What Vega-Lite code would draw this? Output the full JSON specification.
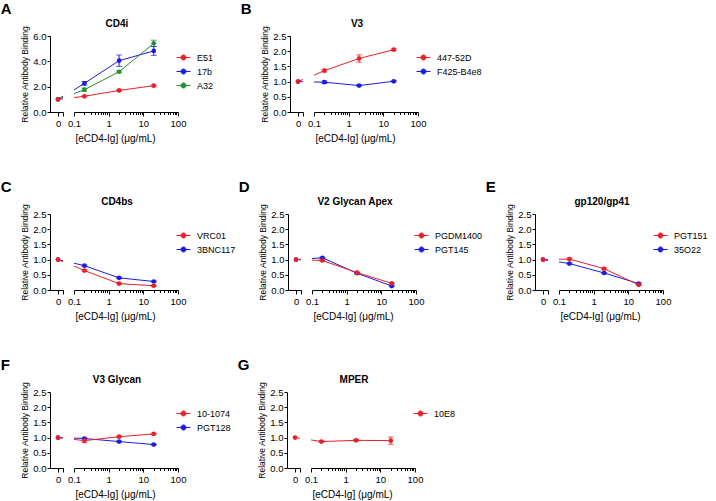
{
"$schema": "https://vega.github.io/schema/vega-lite/v6.json",
"background": "white",
"padding": {"left": 0, "top": 1, "right": 0, "bottom": 0},
"autosize": {"type": "pad"},
"datasets": {"d": [
{"p":"A","ab":"17b","conc":0,"mean":1,"sd":0},
{"p":"A","ab":"17b","conc":0.2,"mean":2.26,"sd":0.15},
{"p":"A","ab":"17b","conc":2,"mean":4.05,"sd":0.45},
{"p":"A","ab":"17b","conc":20,"mean":4.82,"sd":0.35},
{"p":"A","ab":"A32","conc":0,"mean":1,"sd":0},
{"p":"A","ab":"A32","conc":0.2,"mean":1.76,"sd":0.12},
{"p":"A","ab":"A32","conc":2,"mean":3.18,"sd":0.08},
{"p":"A","ab":"A32","conc":20,"mean":5.42,"sd":0.25},
{"p":"A","ab":"E51","conc":0,"mean":1,"sd":0},
{"p":"A","ab":"E51","conc":0.2,"mean":1.24,"sd":0.04},
{"p":"A","ab":"E51","conc":2,"mean":1.7,"sd":0.04},
{"p":"A","ab":"E51","conc":20,"mean":2.08,"sd":0.04},
{"p":"B","ab":"F425-B4e8","conc":0,"mean":1,"sd":0},
{"p":"B","ab":"F425-B4e8","conc":0.2,"mean":0.98,"sd":0.04},
{"p":"B","ab":"F425-B4e8","conc":2,"mean":0.87,"sd":0.02},
{"p":"B","ab":"F425-B4e8","conc":20,"mean":1.01,"sd":0.02},
{"p":"B","ab":"447-52D","conc":0,"mean":1,"sd":0},
{"p":"B","ab":"447-52D","conc":0.2,"mean":1.36,"sd":0.04},
{"p":"B","ab":"447-52D","conc":2,"mean":1.76,"sd":0.12},
{"p":"B","ab":"447-52D","conc":20,"mean":2.05,"sd":0.03},
{"p":"C","ab":"3BNC117","conc":0,"mean":1,"sd":0},
{"p":"C","ab":"3BNC117","conc":0.2,"mean":0.8,"sd":0.02},
{"p":"C","ab":"3BNC117","conc":2,"mean":0.4,"sd":0.02},
{"p":"C","ab":"3BNC117","conc":20,"mean":0.28,"sd":0.02},
{"p":"C","ab":"VRC01","conc":0,"mean":1,"sd":0},
{"p":"C","ab":"VRC01","conc":0.2,"mean":0.64,"sd":0.03},
{"p":"C","ab":"VRC01","conc":2,"mean":0.21,"sd":0.02},
{"p":"C","ab":"VRC01","conc":20,"mean":0.14,"sd":0.02},
{"p":"D","ab":"PGT145","conc":0,"mean":1,"sd":0},
{"p":"D","ab":"PGT145","conc":0.2,"mean":1.06,"sd":0.02},
{"p":"D","ab":"PGT145","conc":2,"mean":0.55,"sd":0.02},
{"p":"D","ab":"PGT145","conc":20,"mean":0.13,"sd":0.02},
{"p":"D","ab":"PGDM1400","conc":0,"mean":1,"sd":0},
{"p":"D","ab":"PGDM1400","conc":0.2,"mean":0.97,"sd":0.03},
{"p":"D","ab":"PGDM1400","conc":2,"mean":0.57,"sd":0.02},
{"p":"D","ab":"PGDM1400","conc":20,"mean":0.22,"sd":0.02},
{"p":"E","ab":"35O22","conc":0,"mean":1,"sd":0},
{"p":"E","ab":"35O22","conc":0.2,"mean":0.87,"sd":0.02},
{"p":"E","ab":"35O22","conc":2,"mean":0.56,"sd":0.02},
{"p":"E","ab":"35O22","conc":20,"mean":0.21,"sd":0.02},
{"p":"E","ab":"PGT151","conc":0,"mean":1,"sd":0},
{"p":"E","ab":"PGT151","conc":0.2,"mean":1.02,"sd":0.03},
{"p":"E","ab":"PGT151","conc":2,"mean":0.7,"sd":0.03},
{"p":"E","ab":"PGT151","conc":20,"mean":0.17,"sd":0.02},
{"p":"F","ab":"PGT128","conc":0,"mean":1,"sd":0},
{"p":"F","ab":"PGT128","conc":0.2,"mean":0.97,"sd":0.02},
{"p":"F","ab":"PGT128","conc":2,"mean":0.87,"sd":0.02},
{"p":"F","ab":"PGT128","conc":20,"mean":0.77,"sd":0.02},
{"p":"F","ab":"10-1074","conc":0,"mean":1,"sd":0},
{"p":"F","ab":"10-1074","conc":0.2,"mean":0.9,"sd":0.07},
{"p":"F","ab":"10-1074","conc":2,"mean":1.03,"sd":0.02},
{"p":"F","ab":"10-1074","conc":20,"mean":1.12,"sd":0.02},
{"p":"G","ab":"10E8","conc":0,"mean":1,"sd":0},
{"p":"G","ab":"10E8","conc":0.2,"mean":0.87,"sd":0.03},
{"p":"G","ab":"10E8","conc":2,"mean":0.91,"sd":0.03},
{"p":"G","ab":"10E8","conc":20,"mean":0.9,"sd":0.12}
]},
"spacing": 35,
"resolve": {"scale": {"color": "independent", "x": "independent", "y": "independent"}, "legend": {"color": "independent"}},
"vconcat": [
{"spacing": 26, "resolve": {"scale": {"color": "independent", "x": "independent", "y": "independent"}, "legend": {"color": "independent"}},
 "hconcat": [
 {"spacing": 3, "resolve": {"scale": {"color": "shared", "x": "independent", "y": "independent"}, "legend": {"color": "shared"}},
  "hconcat": [
   {"width": 13, "height": 76,
    "title": {"text": "A", "anchor": "start", "dx": -20, "fontSize": 15, "fontWeight": "bold", "offset": 9},
    "data": {"name": "d"}, "transform": [{"filter": "datum.p == 'A'"}],
    "layer": [
     {"mark": {"type": "line", "clip": true}, "encoding": {
       "x": {"field": "conc", "type": "quantitative", "scale": {"domain": [-0.063, 0.039], "nice": false, "zero": false}, "axis": {"values": [0, 0.039], "labelExpr": "datum.value == 0 ? '0' : ''", "title": null, "labelFlush": false}},
       "y": {"field": "mean", "type": "quantitative", "scale": {"domain": [0, 6], "nice": false}, "axis": {"values": [0, 2, 4, 6], "format": ".1f", "title": "Relative Antibody Binding"}},
       "color": {"field": "ab", "type": "nominal", "scale": {"domain": ["E51", "17b", "A32"], "range": ["#e8202a", "#1c1ce0", "#24902c"]}, "legend": {"title": " "}}}},
     {"transform": [{"filter": "datum.conc == 0"}], "mark": "point", "encoding": {
       "x": {"field": "conc", "type": "quantitative", "axis": {"values": [0, 0.039], "labelExpr": "datum.value == 0 ? '0' : ''", "title": null, "labelFlush": false}},
       "y": {"field": "mean", "type": "quantitative", "axis": {"values": [0, 2, 4, 6], "format": ".1f", "title": "Relative Antibody Binding"}},
       "color": {"field": "ab", "type": "nominal"}}}
    ]},
   {"width": 104, "height": 76,
    "title": {"text": "CD4i", "fontSize": 10, "fontWeight": "bold", "dx": -9, "offset": 7},
    "data": {"name": "d"}, "transform": [{"filter": "datum.p == 'A'"}],
    "resolve": {"scale": {"x": "independent"}},
    "layer": [
     {"transform": [{"filter": "datum.conc <= 0.2"}], "mark": {"type": "line", "clip": true}, "encoding": {
       "x": {"field": "conc", "type": "quantitative", "scale": {"domain": [0.118, 0.937], "nice": false, "zero": false}, "axis": null},
       "y": {"field": "mean", "type": "quantitative", "scale": {"domain": [0, 6], "nice": false}, "axis": null},
       "color": {"field": "ab", "type": "nominal", "scale": {"domain": ["E51", "17b", "A32"], "range": ["#e8202a", "#1c1ce0", "#24902c"]}, "legend": {"title": " "}}}},
     {"transform": [{"filter": "datum.conc > 0"}], "resolve": {"axis": {"x": "independent"}},
      "layer": [
       {"mark": "line", "encoding": {
         "x": {"field": "conc", "type": "quantitative", "scale": {"type": "log", "domain": [0.1, 100], "nice": false}, "axis": {"orient": "bottom", "values": [0.1, 1, 10, 100], "format": "~g", "labelFlush": false, "title": "[eCD4-Ig] (μg/mL)", "titleX": 41}},
         "y": {"field": "mean", "type": "quantitative", "axis": null},
         "color": {"field": "ab", "type": "nominal"}}},
       {"mark": {"type": "errorbar", "ticks": {"size": 6}}, "encoding": {
         "x": {"field": "conc", "type": "quantitative", "axis": null},
         "y": {"field": "mean", "type": "quantitative", "axis": null},
         "yError": {"field": "sd"},
         "color": {"field": "ab", "type": "nominal"}}},
       {"mark": "point", "encoding": {
         "x": {"field": "conc", "type": "quantitative", "axis": {"orient": "bottom", "values": [0.2,0.3,0.4,0.5,0.6,0.7,0.8,0.9,2,3,4,5,6,7,8,9,20,30,40,50,60,70,80,90], "labels": false, "domain": false, "title": null, "tickSize": 2.5}},
         "y": {"field": "mean", "type": "quantitative", "axis": null},
         "color": {"field": "ab", "type": "nominal"}}}
      ]}
    ]}
  ]},
 {"spacing": 3, "resolve": {"scale": {"color": "shared", "x": "independent", "y": "independent"}, "legend": {"color": "shared"}},
  "hconcat": [
   {"width": 13, "height": 76,
    "title": {"text": "B", "anchor": "start", "dx": -20, "fontSize": 15, "fontWeight": "bold", "offset": 9},
    "data": {"name": "d"}, "transform": [{"filter": "datum.p == 'B'"}],
    "layer": [
     {"mark": {"type": "line", "clip": true}, "encoding": {
       "x": {"field": "conc", "type": "quantitative", "scale": {"domain": [-0.063, 0.039], "nice": false, "zero": false}, "axis": {"values": [0, 0.039], "labelExpr": "datum.value == 0 ? '0' : ''", "title": null, "labelFlush": false}},
       "y": {"field": "mean", "type": "quantitative", "scale": {"domain": [0, 2.5], "nice": false}, "axis": {"values": [0, 0.5, 1, 1.5, 2, 2.5], "format": ".1f", "title": "Relative Antibody Binding"}},
       "color": {"field": "ab", "type": "nominal", "scale": {"domain": ["447-52D", "F425-B4e8"], "range": ["#e8202a", "#1c1ce0"]}, "legend": {"title": " "}}}},
     {"transform": [{"filter": "datum.conc == 0"}], "mark": "point", "encoding": {
       "x": {"field": "conc", "type": "quantitative", "axis": {"values": [0, 0.039], "labelExpr": "datum.value == 0 ? '0' : ''", "title": null, "labelFlush": false}},
       "y": {"field": "mean", "type": "quantitative", "axis": {"values": [0, 0.5, 1, 1.5, 2, 2.5], "format": ".1f", "title": "Relative Antibody Binding"}},
       "color": {"field": "ab", "type": "nominal"}}}
    ]},
   {"width": 104, "height": 76,
    "title": {"text": "V3", "fontSize": 10, "fontWeight": "bold", "dx": -9, "offset": 7},
    "data": {"name": "d"}, "transform": [{"filter": "datum.p == 'B'"}],
    "resolve": {"scale": {"x": "independent"}},
    "layer": [
     {"transform": [{"filter": "datum.conc <= 0.2"}], "mark": {"type": "line", "clip": true}, "encoding": {
       "x": {"field": "conc", "type": "quantitative", "scale": {"domain": [0.118, 0.937], "nice": false, "zero": false}, "axis": null},
       "y": {"field": "mean", "type": "quantitative", "scale": {"domain": [0, 2.5], "nice": false}, "axis": null},
       "color": {"field": "ab", "type": "nominal", "scale": {"domain": ["447-52D", "F425-B4e8"], "range": ["#e8202a", "#1c1ce0"]}, "legend": {"title": " "}}}},
     {"transform": [{"filter": "datum.conc > 0"}], "resolve": {"axis": {"x": "independent"}},
      "layer": [
       {"mark": "line", "encoding": {
         "x": {"field": "conc", "type": "quantitative", "scale": {"type": "log", "domain": [0.1, 100], "nice": false}, "axis": {"orient": "bottom", "values": [0.1, 1, 10, 100], "format": "~g", "labelFlush": false, "title": "[eCD4-Ig] (μg/mL)", "titleX": 41}},
         "y": {"field": "mean", "type": "quantitative", "axis": null},
         "color": {"field": "ab", "type": "nominal"}}},
       {"mark": {"type": "errorbar", "ticks": {"size": 6}}, "encoding": {
         "x": {"field": "conc", "type": "quantitative", "axis": null},
         "y": {"field": "mean", "type": "quantitative", "axis": null},
         "yError": {"field": "sd"},
         "color": {"field": "ab", "type": "nominal"}}},
       {"mark": "point", "encoding": {
         "x": {"field": "conc", "type": "quantitative", "axis": {"orient": "bottom", "values": [0.2,0.3,0.4,0.5,0.6,0.7,0.8,0.9,2,3,4,5,6,7,8,9,20,30,40,50,60,70,80,90], "labels": false, "domain": false, "title": null, "tickSize": 2.5}},
         "y": {"field": "mean", "type": "quantitative", "axis": null},
         "color": {"field": "ab", "type": "nominal"}}}
      ]}
    ]}
  ]}
 ]},
{"spacing": 2, "resolve": {"scale": {"color": "independent", "x": "independent", "y": "independent"}, "legend": {"color": "independent"}},
 "hconcat": [
 {"spacing": 3, "resolve": {"scale": {"color": "shared", "x": "independent", "y": "independent"}, "legend": {"color": "shared"}},
  "hconcat": [
   {"width": 13, "height": 76,
    "title": {"text": "C", "anchor": "start", "dx": -20, "fontSize": 15, "fontWeight": "bold", "offset": 9},
    "data": {"name": "d"}, "transform": [{"filter": "datum.p == 'C'"}],
    "layer": [
     {"mark": {"type": "line", "clip": true}, "encoding": {
       "x": {"field": "conc", "type": "quantitative", "scale": {"domain": [-0.063, 0.039], "nice": false, "zero": false}, "axis": {"values": [0, 0.039], "labelExpr": "datum.value == 0 ? '0' : ''", "title": null, "labelFlush": false}},
       "y": {"field": "mean", "type": "quantitative", "scale": {"domain": [0, 2.5], "nice": false}, "axis": {"values": [0, 0.5, 1, 1.5, 2, 2.5], "format": ".1f", "title": "Relative Antibody Binding"}},
       "color": {"field": "ab", "type": "nominal", "scale": {"domain": ["VRC01", "3BNC117"], "range": ["#e8202a", "#1c1ce0"]}, "legend": {"title": " "}}}},
     {"transform": [{"filter": "datum.conc == 0"}], "mark": "point", "encoding": {
       "x": {"field": "conc", "type": "quantitative", "axis": {"values": [0, 0.039], "labelExpr": "datum.value == 0 ? '0' : ''", "title": null, "labelFlush": false}},
       "y": {"field": "mean", "type": "quantitative", "axis": {"values": [0, 0.5, 1, 1.5, 2, 2.5], "format": ".1f", "title": "Relative Antibody Binding"}},
       "color": {"field": "ab", "type": "nominal"}}}
    ]},
   {"width": 104, "height": 76,
    "title": {"text": "CD4bs", "fontSize": 10, "fontWeight": "bold", "dx": -9, "offset": 7},
    "data": {"name": "d"}, "transform": [{"filter": "datum.p == 'C'"}],
    "resolve": {"scale": {"x": "independent"}},
    "layer": [
     {"transform": [{"filter": "datum.conc <= 0.2"}], "mark": {"type": "line", "clip": true}, "encoding": {
       "x": {"field": "conc", "type": "quantitative", "scale": {"domain": [0.118, 0.937], "nice": false, "zero": false}, "axis": null},
       "y": {"field": "mean", "type": "quantitative", "scale": {"domain": [0, 2.5], "nice": false}, "axis": null},
       "color": {"field": "ab", "type": "nominal", "scale": {"domain": ["VRC01", "3BNC117"], "range": ["#e8202a", "#1c1ce0"]}, "legend": {"title": " "}}}},
     {"transform": [{"filter": "datum.conc > 0"}], "resolve": {"axis": {"x": "independent"}},
      "layer": [
       {"mark": "line", "encoding": {
         "x": {"field": "conc", "type": "quantitative", "scale": {"type": "log", "domain": [0.1, 100], "nice": false}, "axis": {"orient": "bottom", "values": [0.1, 1, 10, 100], "format": "~g", "labelFlush": false, "title": "[eCD4-Ig] (μg/mL)", "titleX": 41}},
         "y": {"field": "mean", "type": "quantitative", "axis": null},
         "color": {"field": "ab", "type": "nominal"}}},
       {"mark": {"type": "errorbar", "ticks": {"size": 6}}, "encoding": {
         "x": {"field": "conc", "type": "quantitative", "axis": null},
         "y": {"field": "mean", "type": "quantitative", "axis": null},
         "yError": {"field": "sd"},
         "color": {"field": "ab", "type": "nominal"}}},
       {"mark": "point", "encoding": {
         "x": {"field": "conc", "type": "quantitative", "axis": {"orient": "bottom", "values": [0.2,0.3,0.4,0.5,0.6,0.7,0.8,0.9,2,3,4,5,6,7,8,9,20,30,40,50,60,70,80,90], "labels": false, "domain": false, "title": null, "tickSize": 2.5}},
         "y": {"field": "mean", "type": "quantitative", "axis": null},
         "color": {"field": "ab", "type": "nominal"}}}
      ]}
    ]}
  ]},
 {"spacing": 3, "resolve": {"scale": {"color": "shared", "x": "independent", "y": "independent"}, "legend": {"color": "shared"}},
  "hconcat": [
   {"width": 13, "height": 76,
    "title": {"text": "D", "anchor": "start", "dx": -20, "fontSize": 15, "fontWeight": "bold", "offset": 9},
    "data": {"name": "d"}, "transform": [{"filter": "datum.p == 'D'"}],
    "layer": [
     {"mark": {"type": "line", "clip": true}, "encoding": {
       "x": {"field": "conc", "type": "quantitative", "scale": {"domain": [-0.063, 0.039], "nice": false, "zero": false}, "axis": {"values": [0, 0.039], "labelExpr": "datum.value == 0 ? '0' : ''", "title": null, "labelFlush": false}},
       "y": {"field": "mean", "type": "quantitative", "scale": {"domain": [0, 2.5], "nice": false}, "axis": {"values": [0, 0.5, 1, 1.5, 2, 2.5], "format": ".1f", "title": "Relative Antibody Binding"}},
       "color": {"field": "ab", "type": "nominal", "scale": {"domain": ["PGDM1400", "PGT145"], "range": ["#e8202a", "#1c1ce0"]}, "legend": {"title": " "}}}},
     {"transform": [{"filter": "datum.conc == 0"}], "mark": "point", "encoding": {
       "x": {"field": "conc", "type": "quantitative", "axis": {"values": [0, 0.039], "labelExpr": "datum.value == 0 ? '0' : ''", "title": null, "labelFlush": false}},
       "y": {"field": "mean", "type": "quantitative", "axis": {"values": [0, 0.5, 1, 1.5, 2, 2.5], "format": ".1f", "title": "Relative Antibody Binding"}},
       "color": {"field": "ab", "type": "nominal"}}}
    ]},
   {"width": 104, "height": 76,
    "title": {"text": "V2 Glycan Apex", "fontSize": 10, "fontWeight": "bold", "dx": -9, "offset": 7},
    "data": {"name": "d"}, "transform": [{"filter": "datum.p == 'D'"}],
    "resolve": {"scale": {"x": "independent"}},
    "layer": [
     {"transform": [{"filter": "datum.conc <= 0.2"}], "mark": {"type": "line", "clip": true}, "encoding": {
       "x": {"field": "conc", "type": "quantitative", "scale": {"domain": [0.118, 0.937], "nice": false, "zero": false}, "axis": null},
       "y": {"field": "mean", "type": "quantitative", "scale": {"domain": [0, 2.5], "nice": false}, "axis": null},
       "color": {"field": "ab", "type": "nominal", "scale": {"domain": ["PGDM1400", "PGT145"], "range": ["#e8202a", "#1c1ce0"]}, "legend": {"title": " "}}}},
     {"transform": [{"filter": "datum.conc > 0"}], "resolve": {"axis": {"x": "independent"}},
      "layer": [
       {"mark": "line", "encoding": {
         "x": {"field": "conc", "type": "quantitative", "scale": {"type": "log", "domain": [0.1, 100], "nice": false}, "axis": {"orient": "bottom", "values": [0.1, 1, 10, 100], "format": "~g", "labelFlush": false, "title": "[eCD4-Ig] (μg/mL)", "titleX": 41}},
         "y": {"field": "mean", "type": "quantitative", "axis": null},
         "color": {"field": "ab", "type": "nominal"}}},
       {"mark": {"type": "errorbar", "ticks": {"size": 6}}, "encoding": {
         "x": {"field": "conc", "type": "quantitative", "axis": null},
         "y": {"field": "mean", "type": "quantitative", "axis": null},
         "yError": {"field": "sd"},
         "color": {"field": "ab", "type": "nominal"}}},
       {"mark": "point", "encoding": {
         "x": {"field": "conc", "type": "quantitative", "axis": {"orient": "bottom", "values": [0.2,0.3,0.4,0.5,0.6,0.7,0.8,0.9,2,3,4,5,6,7,8,9,20,30,40,50,60,70,80,90], "labels": false, "domain": false, "title": null, "tickSize": 2.5}},
         "y": {"field": "mean", "type": "quantitative", "axis": null},
         "color": {"field": "ab", "type": "nominal"}}}
      ]}
    ]}
  ]},
 {"spacing": 3, "resolve": {"scale": {"color": "shared", "x": "independent", "y": "independent"}, "legend": {"color": "shared"}},
  "hconcat": [
   {"width": 13, "height": 76,
    "title": {"text": "E", "anchor": "start", "dx": -20, "fontSize": 15, "fontWeight": "bold", "offset": 9},
    "data": {"name": "d"}, "transform": [{"filter": "datum.p == 'E'"}],
    "layer": [
     {"mark": {"type": "line", "clip": true}, "encoding": {
       "x": {"field": "conc", "type": "quantitative", "scale": {"domain": [-0.063, 0.039], "nice": false, "zero": false}, "axis": {"values": [0, 0.039], "labelExpr": "datum.value == 0 ? '0' : ''", "title": null, "labelFlush": false}},
       "y": {"field": "mean", "type": "quantitative", "scale": {"domain": [0, 2.5], "nice": false}, "axis": {"values": [0, 0.5, 1, 1.5, 2, 2.5], "format": ".1f", "title": "Relative Antibody Binding"}},
       "color": {"field": "ab", "type": "nominal", "scale": {"domain": ["PGT151", "35O22"], "range": ["#e8202a", "#1c1ce0"]}, "legend": {"title": " ", "offset": -18}}}},
     {"transform": [{"filter": "datum.conc == 0"}], "mark": "point", "encoding": {
       "x": {"field": "conc", "type": "quantitative", "axis": {"values": [0, 0.039], "labelExpr": "datum.value == 0 ? '0' : ''", "title": null, "labelFlush": false}},
       "y": {"field": "mean", "type": "quantitative", "axis": {"values": [0, 0.5, 1, 1.5, 2, 2.5], "format": ".1f", "title": "Relative Antibody Binding"}},
       "color": {"field": "ab", "type": "nominal"}}}
    ]},
   {"width": 104, "height": 76,
    "title": {"text": "gp120/gp41", "fontSize": 10, "fontWeight": "bold", "dx": -9, "offset": 7},
    "data": {"name": "d"}, "transform": [{"filter": "datum.p == 'E'"}],
    "resolve": {"scale": {"x": "independent"}},
    "layer": [
     {"transform": [{"filter": "datum.conc <= 0.2"}], "mark": {"type": "line", "clip": true}, "encoding": {
       "x": {"field": "conc", "type": "quantitative", "scale": {"domain": [0.118, 0.937], "nice": false, "zero": false}, "axis": null},
       "y": {"field": "mean", "type": "quantitative", "scale": {"domain": [0, 2.5], "nice": false}, "axis": null},
       "color": {"field": "ab", "type": "nominal", "scale": {"domain": ["PGT151", "35O22"], "range": ["#e8202a", "#1c1ce0"]}, "legend": {"title": " ", "offset": -18}}}},
     {"transform": [{"filter": "datum.conc > 0"}], "resolve": {"axis": {"x": "independent"}},
      "layer": [
       {"mark": "line", "encoding": {
         "x": {"field": "conc", "type": "quantitative", "scale": {"type": "log", "domain": [0.1, 100], "nice": false}, "axis": {"orient": "bottom", "values": [0.1, 1, 10, 100], "format": "~g", "labelFlush": false, "title": "[eCD4-Ig] (μg/mL)", "titleX": 41}},
         "y": {"field": "mean", "type": "quantitative", "axis": null},
         "color": {"field": "ab", "type": "nominal"}}},
       {"mark": {"type": "errorbar", "ticks": {"size": 6}}, "encoding": {
         "x": {"field": "conc", "type": "quantitative", "axis": null},
         "y": {"field": "mean", "type": "quantitative", "axis": null},
         "yError": {"field": "sd"},
         "color": {"field": "ab", "type": "nominal"}}},
       {"mark": "point", "encoding": {
         "x": {"field": "conc", "type": "quantitative", "axis": {"orient": "bottom", "values": [0.2,0.3,0.4,0.5,0.6,0.7,0.8,0.9,2,3,4,5,6,7,8,9,20,30,40,50,60,70,80,90], "labels": false, "domain": false, "title": null, "tickSize": 2.5}},
         "y": {"field": "mean", "type": "quantitative", "axis": null},
         "color": {"field": "ab", "type": "nominal"}}}
      ]}
    ]}
  ]}
 ]},
{"spacing": 6, "resolve": {"scale": {"color": "independent", "x": "independent", "y": "independent"}, "legend": {"color": "independent"}},
 "hconcat": [
 {"spacing": 3, "resolve": {"scale": {"color": "shared", "x": "independent", "y": "independent"}, "legend": {"color": "shared"}},
  "hconcat": [
   {"width": 13, "height": 76,
    "title": {"text": "F", "anchor": "start", "dx": -20, "fontSize": 15, "fontWeight": "bold", "offset": 9},
    "data": {"name": "d"}, "transform": [{"filter": "datum.p == 'F'"}],
    "layer": [
     {"mark": {"type": "line", "clip": true}, "encoding": {
       "x": {"field": "conc", "type": "quantitative", "scale": {"domain": [-0.063, 0.039], "nice": false, "zero": false}, "axis": {"values": [0, 0.039], "labelExpr": "datum.value == 0 ? '0' : ''", "title": null, "labelFlush": false}},
       "y": {"field": "mean", "type": "quantitative", "scale": {"domain": [0, 2.5], "nice": false}, "axis": {"values": [0, 0.5, 1, 1.5, 2, 2.5], "format": ".1f", "title": "Relative Antibody Binding"}},
       "color": {"field": "ab", "type": "nominal", "scale": {"domain": ["10-1074", "PGT128"], "range": ["#e8202a", "#1c1ce0"]}, "legend": {"title": " "}}}},
     {"transform": [{"filter": "datum.conc == 0"}], "mark": "point", "encoding": {
       "x": {"field": "conc", "type": "quantitative", "axis": {"values": [0, 0.039], "labelExpr": "datum.value == 0 ? '0' : ''", "title": null, "labelFlush": false}},
       "y": {"field": "mean", "type": "quantitative", "axis": {"values": [0, 0.5, 1, 1.5, 2, 2.5], "format": ".1f", "title": "Relative Antibody Binding"}},
       "color": {"field": "ab", "type": "nominal"}}}
    ]},
   {"width": 104, "height": 76,
    "title": {"text": "V3 Glycan", "fontSize": 10, "fontWeight": "bold", "dx": -9, "offset": 7},
    "data": {"name": "d"}, "transform": [{"filter": "datum.p == 'F'"}],
    "resolve": {"scale": {"x": "independent"}},
    "layer": [
     {"transform": [{"filter": "datum.conc <= 0.2"}], "mark": {"type": "line", "clip": true}, "encoding": {
       "x": {"field": "conc", "type": "quantitative", "scale": {"domain": [0.118, 0.937], "nice": false, "zero": false}, "axis": null},
       "y": {"field": "mean", "type": "quantitative", "scale": {"domain": [0, 2.5], "nice": false}, "axis": null},
       "color": {"field": "ab", "type": "nominal", "scale": {"domain": ["10-1074", "PGT128"], "range": ["#e8202a", "#1c1ce0"]}, "legend": {"title": " "}}}},
     {"transform": [{"filter": "datum.conc > 0"}], "resolve": {"axis": {"x": "independent"}},
      "layer": [
       {"mark": "line", "encoding": {
         "x": {"field": "conc", "type": "quantitative", "scale": {"type": "log", "domain": [0.1, 100], "nice": false}, "axis": {"orient": "bottom", "values": [0.1, 1, 10, 100], "format": "~g", "labelFlush": false, "title": "[eCD4-Ig] (μg/mL)", "titleX": 41}},
         "y": {"field": "mean", "type": "quantitative", "axis": null},
         "color": {"field": "ab", "type": "nominal"}}},
       {"mark": {"type": "errorbar", "ticks": {"size": 6}}, "encoding": {
         "x": {"field": "conc", "type": "quantitative", "axis": null},
         "y": {"field": "mean", "type": "quantitative", "axis": null},
         "yError": {"field": "sd"},
         "color": {"field": "ab", "type": "nominal"}}},
       {"mark": "point", "encoding": {
         "x": {"field": "conc", "type": "quantitative", "axis": {"orient": "bottom", "values": [0.2,0.3,0.4,0.5,0.6,0.7,0.8,0.9,2,3,4,5,6,7,8,9,20,30,40,50,60,70,80,90], "labels": false, "domain": false, "title": null, "tickSize": 2.5}},
         "y": {"field": "mean", "type": "quantitative", "axis": null},
         "color": {"field": "ab", "type": "nominal"}}}
      ]}
    ]}
  ]},
 {"spacing": 3, "resolve": {"scale": {"color": "shared", "x": "independent", "y": "independent"}, "legend": {"color": "shared"}},
  "hconcat": [
   {"width": 13, "height": 76,
    "title": {"text": "G", "anchor": "start", "dx": -20, "fontSize": 15, "fontWeight": "bold", "offset": 9},
    "data": {"name": "d"}, "transform": [{"filter": "datum.p == 'G'"}],
    "layer": [
     {"mark": {"type": "line", "clip": true}, "encoding": {
       "x": {"field": "conc", "type": "quantitative", "scale": {"domain": [-0.063, 0.039], "nice": false, "zero": false}, "axis": {"values": [0, 0.039], "labelExpr": "datum.value == 0 ? '0' : ''", "title": null, "labelFlush": false}},
       "y": {"field": "mean", "type": "quantitative", "scale": {"domain": [0, 2.5], "nice": false}, "axis": {"values": [0, 0.5, 1, 1.5, 2, 2.5], "format": ".1f", "title": "Relative Antibody Binding"}},
       "color": {"field": "ab", "type": "nominal", "scale": {"domain": ["10E8"], "range": ["#e8202a"]}, "legend": {"title": " "}}}},
     {"transform": [{"filter": "datum.conc == 0"}], "mark": "point", "encoding": {
       "x": {"field": "conc", "type": "quantitative", "axis": {"values": [0, 0.039], "labelExpr": "datum.value == 0 ? '0' : ''", "title": null, "labelFlush": false}},
       "y": {"field": "mean", "type": "quantitative", "axis": {"values": [0, 0.5, 1, 1.5, 2, 2.5], "format": ".1f", "title": "Relative Antibody Binding"}},
       "color": {"field": "ab", "type": "nominal"}}}
    ]},
   {"width": 104, "height": 76,
    "title": {"text": "MPER", "fontSize": 10, "fontWeight": "bold", "dx": -9, "offset": 7},
    "data": {"name": "d"}, "transform": [{"filter": "datum.p == 'G'"}],
    "resolve": {"scale": {"x": "independent"}},
    "layer": [
     {"transform": [{"filter": "datum.conc <= 0.2"}], "mark": {"type": "line", "clip": true}, "encoding": {
       "x": {"field": "conc", "type": "quantitative", "scale": {"domain": [0.118, 0.937], "nice": false, "zero": false}, "axis": null},
       "y": {"field": "mean", "type": "quantitative", "scale": {"domain": [0, 2.5], "nice": false}, "axis": null},
       "color": {"field": "ab", "type": "nominal", "scale": {"domain": ["10E8"], "range": ["#e8202a"]}, "legend": {"title": " "}}}},
     {"transform": [{"filter": "datum.conc > 0"}], "resolve": {"axis": {"x": "independent"}},
      "layer": [
       {"mark": "line", "encoding": {
         "x": {"field": "conc", "type": "quantitative", "scale": {"type": "log", "domain": [0.1, 100], "nice": false}, "axis": {"orient": "bottom", "values": [0.1, 1, 10, 100], "format": "~g", "labelFlush": false, "title": "[eCD4-Ig] (μg/mL)", "titleX": 41}},
         "y": {"field": "mean", "type": "quantitative", "axis": null},
         "color": {"field": "ab", "type": "nominal"}}},
       {"mark": {"type": "errorbar", "ticks": {"size": 6}}, "encoding": {
         "x": {"field": "conc", "type": "quantitative", "axis": null},
         "y": {"field": "mean", "type": "quantitative", "axis": null},
         "yError": {"field": "sd"},
         "color": {"field": "ab", "type": "nominal"}}},
       {"mark": "point", "encoding": {
         "x": {"field": "conc", "type": "quantitative", "axis": {"orient": "bottom", "values": [0.2,0.3,0.4,0.5,0.6,0.7,0.8,0.9,2,3,4,5,6,7,8,9,20,30,40,50,60,70,80,90], "labels": false, "domain": false, "title": null, "tickSize": 2.5}},
         "y": {"field": "mean", "type": "quantitative", "axis": null},
         "color": {"field": "ab", "type": "nominal"}}}
      ]}
    ]}
  ]}
 ]}
],
"config": {
 "font": "Liberation Sans",
 "view": {"stroke": null},
 "axis": {"grid": false, "domainColor": "#000", "tickColor": "#000", "labelColor": "#000", "titleColor": "#000", "domainWidth": 1, "tickWidth": 1, "labelFontSize": 9.5, "titleFontWeight": "normal"},
 "axisY": {"tickSize": 3, "labelPadding": 1, "titleFontSize": 8.5, "titlePadding": 3},
 "axisX": {"tickSize": 4, "labelPadding": 2, "titleFontSize": 10, "titlePadding": 6},
 "legend": {"orient": "right", "labelFontSize": 9, "labelColor": "#000", "titleFontSize": 10, "titlePadding": 4, "symbolType": "M-1,0L1,0M-0.36,0A0.36,0.36,0,1,1,0.36,0A0.36,0.36,0,1,1,-0.36,0Z", "symbolSize": 196, "symbolStrokeWidth": 1.2, "rowPadding": 1, "padding": 0, "offset": -10, "labelOffset": 6},
 "title": {"color": "#000"},
 "line": {"strokeWidth": 1},
 "point": {"filled": true, "size": 22, "opacity": 1}
}
}
